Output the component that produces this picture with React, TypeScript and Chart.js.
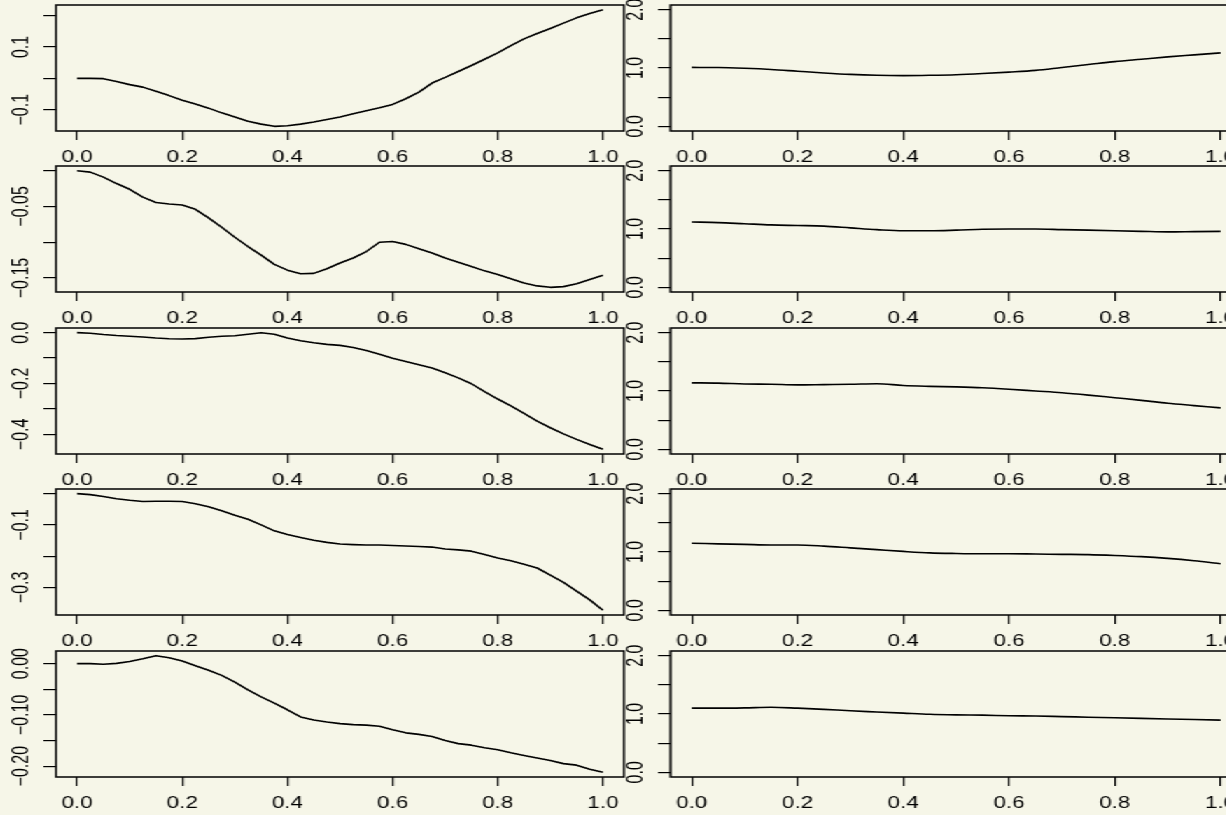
import React, { useEffect, useRef } from "react";
import { Chart, registerables } from "chart.js";
Chart.register(...registerables);

// ---------- data ----------
const X_LEFT = [0, 0.025, 0.05, 0.075, 0.1, 0.125, 0.15, 0.175, 0.2, 0.225, 0.25, 0.275, 0.3, 0.325, 0.35, 0.375, 0.4, 0.425, 0.45, 0.475, 0.5, 0.525, 0.55, 0.575, 0.6, 0.625, 0.65, 0.675, 0.7, 0.725, 0.75, 0.775, 0.8, 0.825, 0.85, 0.875, 0.9, 0.925, 0.95, 0.975, 1];

const LEFT_1 = [0, 0, -0.001, -0.01, -0.02, -0.028, -0.041, -0.055, -0.07, -0.082, -0.095, -0.11, -0.123, -0.137, -0.146, -0.153, -0.151, -0.146, -0.139, -0.131, -0.123, -0.113, -0.103, -0.094, -0.083, -0.065, -0.044, -0.015, 0.003, 0.022, 0.041, 0.061, 0.081, 0.104, 0.126, 0.143, 0.159, 0.176, 0.193, 0.207, 0.219];
const LEFT_2 = [0, -0.002, -0.009, -0.018, -0.026, -0.037, -0.0445, -0.0465, -0.048, -0.054, -0.066, -0.079, -0.093, -0.106, -0.118, -0.131, -0.139, -0.144, -0.1435, -0.137, -0.129, -0.122, -0.113, -0.1, -0.099, -0.103, -0.109, -0.115, -0.122, -0.128, -0.134, -0.14, -0.145, -0.151, -0.157, -0.161, -0.163, -0.162, -0.158, -0.152, -0.146];
const LEFT_3 = [0, -0.002, -0.007, -0.011, -0.014, -0.017, -0.021, -0.024, -0.025, -0.0235, -0.018, -0.014, -0.012, -0.006, 0, -0.006, -0.021, -0.032, -0.04, -0.046, -0.05, -0.058, -0.07, -0.085, -0.101, -0.113, -0.126, -0.139, -0.158, -0.178, -0.201, -0.232, -0.261, -0.288, -0.318, -0.348, -0.374, -0.398, -0.42, -0.44, -0.459];
const LEFT_4 = [0, -0.003, -0.009, -0.016, -0.021, -0.025, -0.0245, -0.0245, -0.025, -0.032, -0.042, -0.055, -0.069, -0.082, -0.1, -0.119, -0.131, -0.14, -0.149, -0.156, -0.161, -0.163, -0.1645, -0.1645, -0.166, -0.1675, -0.169, -0.171, -0.177, -0.18, -0.184, -0.195, -0.206, -0.215, -0.226, -0.238, -0.261, -0.284, -0.312, -0.34, -0.3735];
const LEFT_5 = [0, 0, -0.0013, 0.0005, 0.004, 0.0095, 0.0155, 0.0115, 0.005, -0.004, -0.013, -0.023, -0.036, -0.051, -0.065, -0.077, -0.09, -0.104, -0.11, -0.114, -0.117, -0.119, -0.12, -0.122, -0.129, -0.135, -0.138, -0.142, -0.15, -0.156, -0.159, -0.164, -0.168, -0.174, -0.179, -0.184, -0.189, -0.195, -0.198, -0.206, -0.212];

const X_RIGHT = [0, 0.05, 0.1, 0.15, 0.2, 0.25, 0.3, 0.35, 0.4, 0.45, 0.5, 0.55, 0.6, 0.65, 0.7, 0.75, 0.8, 0.85, 0.9, 0.95, 1];

const RIGHT_1 = [1.01, 1.008, 0.995, 0.975, 0.945, 0.915, 0.89, 0.875, 0.87, 0.875, 0.885, 0.905, 0.93, 0.96, 1.01, 1.06, 1.11, 1.15, 1.19, 1.225, 1.26];
const RIGHT_2 = [1.12, 1.11, 1.09, 1.07, 1.06, 1.05, 1.02, 0.99, 0.97, 0.97, 0.98, 0.995, 1.0, 1.0, 0.99, 0.98, 0.97, 0.96, 0.95, 0.955, 0.96];
const RIGHT_3 = [1.14, 1.135, 1.12, 1.115, 1.105, 1.11, 1.115, 1.125, 1.095, 1.08, 1.07, 1.055, 1.03, 1.0, 0.97, 0.93, 0.885, 0.84, 0.79, 0.75, 0.71];
const RIGHT_4 = [1.15, 1.14, 1.13, 1.12, 1.12, 1.1, 1.07, 1.04, 1.01, 0.985, 0.975, 0.97, 0.97, 0.965, 0.96, 0.955, 0.94, 0.92, 0.89, 0.85, 0.8];
const RIGHT_5 = [1.1, 1.1, 1.105, 1.115, 1.1, 1.08, 1.055, 1.035, 1.015, 0.995, 0.985, 0.98, 0.97, 0.965, 0.955, 0.945, 0.935, 0.925, 0.915, 0.905, 0.895];

const X_TICKS = [0, 0.2, 0.4, 0.6, 0.8, 1.0];
const X_TICK_LABELS = ["0.0", "0.2", "0.4", "0.6", "0.8", "1.0"];

const LEFT_Y_TICKS_1 = [-0.1, 0, 0.1, 0.2];
const LEFT_Y_LABELS_1 = ["\u22120.1", "", "0.1", ""];
const LEFT_Y_TICKS_2 = [-0.15, -0.1, -0.05, 0];
const LEFT_Y_LABELS_2 = ["\u22120.15", "", "\u22120.05", ""];
const LEFT_Y_TICKS_3 = [-0.4, -0.3, -0.2, -0.1, 0];
const LEFT_Y_LABELS_3 = ["\u22120.4", "", "\u22120.2", "", "0.0"];
const LEFT_Y_TICKS_4 = [-0.3, -0.2, -0.1, 0];
const LEFT_Y_LABELS_4 = ["\u22120.3", "", "\u22120.1", ""];
const LEFT_Y_TICKS_5 = [-0.2, -0.15, -0.1, -0.05, 0];
const LEFT_Y_LABELS_5 = ["\u22120.20", "", "\u22120.10", "", "0.00"];

const RIGHT_Y_TICKS = [0, 0.5, 1, 1.5, 2];
const RIGHT_Y_LABELS = ["0.0", "", "1.0", "", "2.0"];
const RIGHT_Y_LIMITS = [0, 2];

// ---------- layout / style ----------
const STRETCH = 1.4;
const FONT = '"Liberation Sans", Arial, Helvetica, sans-serif';
const FONT_SIZE = 16;
const BG = "#F6F6E8";
const TICK_LEN = 9;
const Y_LABEL_OFFSET = 24.3;
const Y_AXIS_W = 40;
const X_AXIS_H = 36;
const PAD_TOP = 24;
const BOX_H = 126;
const CANVAS_H = PAD_TOP + BOX_H + X_AXIS_H;
const BOX_TOPS = [5, 166, 328, 489, 651];

const measureWidest = (labels: string[]) => {
  const c = document.createElement("canvas").getContext("2d")!;
  c.font = `${FONT_SIZE}px ${FONT}`;
  return Math.max(0, ...labels.map((l) => c.measureText(l).width));
};

const boxPlugin = {
  id: "rbox",
  afterDraw(chart: any) {
    const { ctx, chartArea: a } = chart;
    ctx.save();
    ctx.strokeStyle = "#000";
    ctx.lineWidth = 1.5;
    ctx.strokeRect(a.left, a.top, a.right - a.left, a.bottom - a.top);
    ctx.restore();
  },
};

type PanelProps = {
  xs: number[];
  ys: number[];
  yTicks: number[];
  yLabels: string[];
  yLimits?: number[];
  left: number;
  top: number;
  width: number;
  padRight: number;
  smooth?: boolean;
};

function Panel(p: PanelProps) {
  const ref = useRef<HTMLCanvasElement>(null);
  useEffect(() => {
    const lo = p.yLimits ? p.yLimits[0] : Math.min(...p.ys);
    const hi = p.yLimits ? p.yLimits[1] : Math.max(...p.ys);
    const ext = 0.04 * (hi - lo);
    const yPad = Y_LABEL_OFFSET - TICK_LEN - measureWidest(p.yLabels) / 2;
    const gridOpts = {
      drawOnChartArea: false,
      drawTicks: true,
      tickLength: TICK_LEN,
      color: "#000",
      lineWidth: 1.2,
    };
    const chart = new Chart(ref.current!, {
      type: "line",
      data: {
        datasets: [
          {
            data: p.xs.map((x, i) => ({ x, y: p.ys[i] })),
            borderColor: "#000",
            borderWidth: 1.6,
            pointRadius: 0,
            fill: false,
            tension: 0,
            cubicInterpolationMode: p.smooth ? "monotone" : "default",
            borderJoinStyle: "round",
          } as any,
        ],
      },
      options: {
        animation: false,
        responsive: false,
        events: [],
        layout: { padding: { top: PAD_TOP, right: p.padRight, bottom: 0, left: 0 } },
        plugins: { legend: { display: false }, tooltip: { enabled: false } },
        scales: {
          x: {
            type: "linear",
            min: -0.04,
            max: 1.04,
            afterBuildTicks: (s: any) => {
              s.ticks = X_TICKS.map((v) => ({ value: v }));
            },
            afterFit: (s: any) => {
              s.height = X_AXIS_H;
            },
            grid: gridOpts,
            border: { display: false },
            ticks: {
              autoSkip: false,
              minRotation: 0,
              maxRotation: 0,
              padding: 7.8,
              color: "#000",
              font: { family: FONT, size: FONT_SIZE },
              callback: (_v: any, i: number) => X_TICK_LABELS[i],
            },
          },
          y: {
            type: "linear",
            min: lo - ext,
            max: hi + ext,
            afterBuildTicks: (s: any) => {
              s.ticks = p.yTicks.map((v) => ({ value: v }));
            },
            afterFit: (s: any) => {
              s.width = Y_AXIS_W;
            },
            grid: gridOpts,
            border: { display: false },
            ticks: {
              autoSkip: false,
              minRotation: 90,
              maxRotation: 90,
              crossAlign: "center",
              padding: yPad,
              color: "#000",
              font: { family: FONT, size: FONT_SIZE },
              callback: (_v: any, i: number) => p.yLabels[i],
            },
          },
        },
      } as any,
      plugins: [boxPlugin],
    });
    return () => chart.destroy();
  }, []);
  return (
    <canvas
      ref={ref}
      width={p.width}
      height={CANVAS_H}
      style={{ position: "absolute", left: p.left, top: p.top, width: p.width, height: CANVAS_H }}
    />
  );
}

const LEFT_SERIES = [LEFT_1, LEFT_2, LEFT_3, LEFT_4, LEFT_5];
const LEFT_TICKS = [LEFT_Y_TICKS_1, LEFT_Y_TICKS_2, LEFT_Y_TICKS_3, LEFT_Y_TICKS_4, LEFT_Y_TICKS_5];
const LEFT_LABELS = [LEFT_Y_LABELS_1, LEFT_Y_LABELS_2, LEFT_Y_LABELS_3, LEFT_Y_LABELS_4, LEFT_Y_LABELS_5];
const RIGHT_SERIES = [RIGHT_1, RIGHT_2, RIGHT_3, RIGHT_4, RIGHT_5];

export default function App() {
  return (
    <div
      style={{
        position: "absolute",
        left: 0,
        top: 0,
        width: 1226,
        height: 815,
        overflow: "hidden",
        background: BG,
      }}
    >
      <div
        style={{
          position: "absolute",
          left: 0,
          top: 0,
          width: 1226 / STRETCH,
          height: 815,
          transform: `scaleX(${STRETCH})`,
          transformOrigin: "0 0",
        }}
      >
        {BOX_TOPS.map((bt, r) => (
          <React.Fragment key={r}>
            <Panel
              xs={X_LEFT}
              ys={LEFT_SERIES[r]}
              yTicks={LEFT_TICKS[r]}
              yLabels={LEFT_LABELS[r]}
              left={0}
              top={bt - PAD_TOP}
              width={470}
              padRight={24.3}
            />
            <Panel
              xs={X_RIGHT}
              ys={RIGHT_SERIES[r]}
              yTicks={RIGHT_Y_TICKS}
              yLabels={RIGHT_Y_LABELS}
              yLimits={RIGHT_Y_LIMITS}
              left={439}
              top={bt - PAD_TOP}
              width={472}
              padRight={24}
              smooth
            />
          </React.Fragment>
        ))}
      </div>
    </div>
  );
}
